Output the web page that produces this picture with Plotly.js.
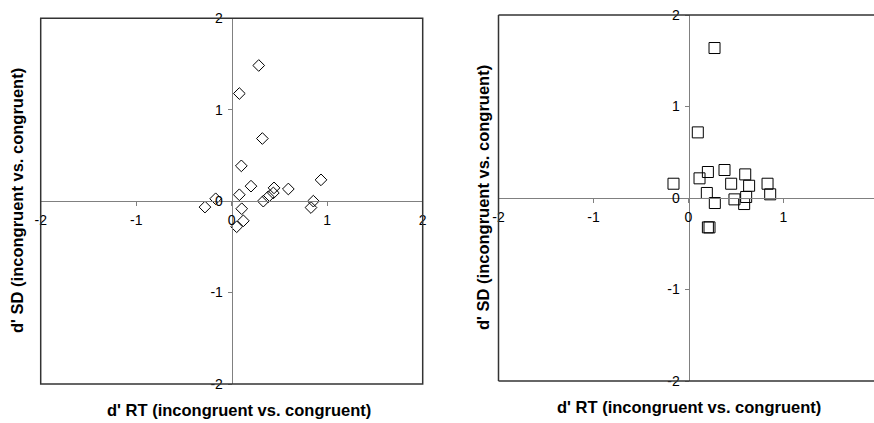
<!DOCTYPE html>
<html><head><meta charset="utf-8">
<script src="https://cdn.plot.ly/plotly-3.0.1.min.js"></script>
<style>html,body{margin:0;padding:0;background:#fff}</style>
</head><body>
<div id="chart" style="width:874px;height:423px"></div>
<script>
const leftX = [0.283, 0.080, 0.321, 0.101, 0.935, 0.855, 0.830, -0.280, -0.168, 0.080, 0.202, 0.105, 0.122, 0.052, 0.331, 0.383, 0.436, 0.443, 0.593];
const leftY = [1.484, 1.177, 0.685, 0.386, 0.233, 0.000, -0.070, -0.065, 0.026, 0.070, 0.164, -0.083, -0.215, -0.280, 0.000, 0.048, 0.090, 0.145, 0.133];
const rightX = [0.274, 0.098, -0.158, 0.116, 0.204, 0.379, 0.449, 0.597, 0.638, 0.832, 0.193, 0.860, 0.277, 0.484, 0.607, 0.586, 0.221, 0.204];
const rightY = [1.639, 0.717, 0.156, 0.215, 0.284, 0.306, 0.156, 0.258, 0.134, 0.156, 0.055, 0.040, -0.055, -0.015, 0.011, -0.066, -0.321, -0.321];
const leftXTicks = [-2, -1, 0, 1, 2];
const rightXTicks = [-2, -1, 0, 1];
const yTicks = [-2, -1, 0, 1, 2];
const xTitle = "d' RT (incongruent vs. congruent)";
const yTitle = "d' SD (incongruent vs. congruent)";

const W = 874, H = 423;
const L = {x0: 40.7, x1: 422.7, y0: 18.3, y1: 384};
const R = {x0: 498.5, y0: 15, y1: 381, unit: 95};
const rightXMax = -2 + (W - R.x0) / R.unit;
const px = v => v / W, py = v => 1 - v / H;

const tickFont = {family: 'Liberation Sans, Arial, sans-serif', size: 14, color: '#000'};
const titleFont = {family: 'Liberation Sans, Arial, sans-serif', size: 16.5, color: '#000', weight: 'bold'};

const traces = [
  {x: leftX, y: leftY, xaxis: 'x', yaxis: 'y', mode: 'markers', type: 'scatter',
   marker: {symbol: 'diamond-open', size: 9, color: '#000', line: {width: 1, color: '#000'}}, hoverinfo: 'skip'},
  {x: rightX, y: rightY, xaxis: 'x2', yaxis: 'y2', mode: 'markers', type: 'scatter',
   marker: {symbol: 'square-open', size: 11, color: '#000', line: {width: 1, color: '#000'}}, hoverinfo: 'skip'}
];

const lyDom = [py(L.y1), py(L.y0)];
const lxDom = [px(L.x0), px(L.x1)];
const ryDom = [py(R.y1), py(R.y0)];
const rxDom = [px(R.x0), 1];

const axCommon = {showgrid: false, zeroline: false, showline: true, linecolor: '#808080', linewidth: 1,
  ticks: 'outside', ticklen: 4, tickcolor: '#808080', tickfont: tickFont, tickmode: 'array', fixedrange: true};

const layout = {
  width: W, height: H, margin: {l: 0, r: 0, t: 0, b: 0},
  paper_bgcolor: '#fff', plot_bgcolor: '#fff', showlegend: false,
  xaxis: Object.assign({}, axCommon, {domain: lxDom, range: [-2, 2], anchor: 'free', position: (lyDom[0] + lyDom[1]) / 2,
    tickvals: leftXTicks, ticktext: leftXTicks.map(String), ticklabelstandoff: 2}),
  yaxis: Object.assign({}, axCommon, {domain: lyDom, range: [-2, 2], anchor: 'free', position: (lxDom[0] + lxDom[1]) / 2,
    tickvals: yTicks, ticktext: yTicks.map(String), ticklabelstandoff: 2}),
  xaxis2: Object.assign({}, axCommon, {domain: rxDom, range: [-2, rightXMax], anchor: 'free', position: (ryDom[0] + ryDom[1]) / 2,
    tickvals: rightXTicks, ticktext: rightXTicks.map(String), ticklabelstandoff: 2}),
  yaxis2: Object.assign({}, axCommon, {domain: ryDom, range: [-2, 2], anchor: 'free', position: px(R.x0 + 2 * R.unit),
    tickvals: yTicks, ticktext: yTicks.map(String), ticklabelstandoff: 2}),
  shapes: [
    {type: 'rect', xref: 'x domain', yref: 'y domain', x0: 0, x1: 1, y0: 0, y1: 1, line: {color: '#333', width: 1.5}, layer: 'above'},
    {type: 'line', xref: 'x2 domain', yref: 'y2 domain', x0: 0, x1: 1, y0: 1, y1: 1, line: {color: '#333', width: 1.5}, layer: 'above'},
    {type: 'line', xref: 'x2 domain', yref: 'y2 domain', x0: 0, x1: 0, y0: 0, y1: 1, line: {color: '#333', width: 1.5}, layer: 'above'},
    {type: 'line', xref: 'x2 domain', yref: 'y2 domain', x0: 0, x1: 1, y0: 0, y1: 0, line: {color: '#333', width: 1.5}, layer: 'above'}
  ],
  annotations: [
    {text: '<b>' + xTitle + '</b>', xref: 'paper', yref: 'paper', x: px(239), y: py(410), showarrow: false, font: titleFont, xanchor: 'center', yanchor: 'middle'},
    {text: '<b>' + xTitle + '</b>', xref: 'paper', yref: 'paper', x: px(689), y: py(407), showarrow: false, font: titleFont, xanchor: 'center', yanchor: 'middle'},
    {text: '<b>' + yTitle + '</b>', xref: 'paper', yref: 'paper', x: px(17), y: py(201), showarrow: false, font: titleFont, textangle: -90, xanchor: 'center', yanchor: 'middle'},
    {text: '<b>' + yTitle + '</b>', xref: 'paper', yref: 'paper', x: px(483), y: py(198), showarrow: false, font: titleFont, textangle: -90, xanchor: 'center', yanchor: 'middle'}
  ]
};

Plotly.newPlot('chart', traces, layout, {staticPlot: true, displayModeBar: false});
</script>
</body></html>
